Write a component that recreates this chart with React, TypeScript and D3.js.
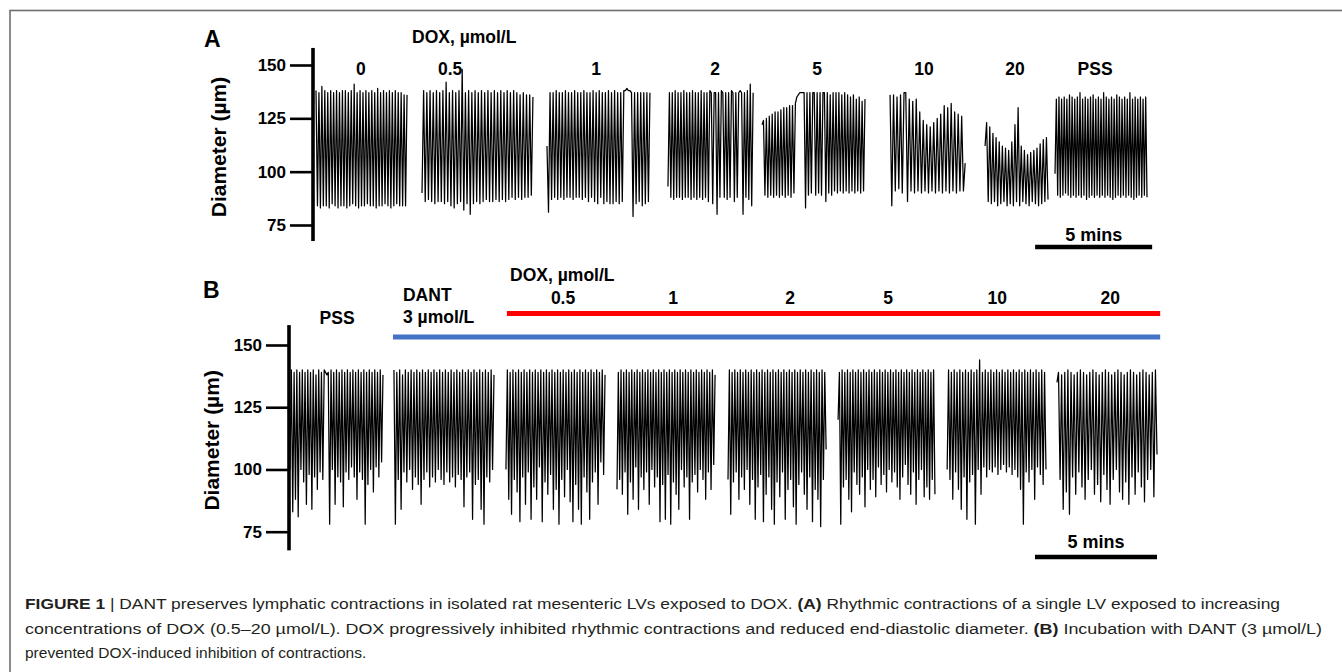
import { useEffect, useRef } from 'react';
import * as d3 from 'd3';

const W = 1342;
const H = 672;
const FONT = '"Liberation Sans", Arial, Helvetica, sans-serif';

const yTicks = [75, 100, 125, 150];

// ---- Panel A: single LV, increasing DOX (times in minutes) ----
const concA = ['0', '0.5', '1', '2', '5', '10', '20', 'PSS'];
const startA = [0, 4.53, 9.87, 15.04, 19.06, 24.53, 28.59, 31.58];
const endA = [3.89, 9.27, 14.27, 18.68, 23.46, 27.74, 31.28, 35.51];
const labelTimeA = [1.92, 5.73, 11.97, 17.05, 21.41, 25.98, 29.87, 33.29];
const scaleBarA = [30.73, 35.73];

const traceA0 = [138, 84, 137, 83, 140, 84, 138, 84, 137, 83, 138, 85, 137, 84, 138, 83, 137, 84, 138, 84, 138, 83, 137, 84, 138, 85, 141, 84, 137, 83, 138, 84, 137, 84, 138, 85, 137, 84, 138, 84, 137, 83, 139, 84, 137, 84, 138, 85, 137, 84, 138, 83, 137, 84, 138, 85, 137, 84, 137, 84, 136, 84, 136];
const traceA05 = [90, 138, 86, 137, 87, 138, 86, 137, 85, 138, 86, 137, 86, 138, 85, 142, 86, 137, 84, 138, 83, 137, 85, 138, 86, 148, 82, 137, 85, 138, 80, 137, 85, 138, 86, 137, 85, 138, 86, 137, 87, 138, 86, 137, 86, 138, 87, 137, 86, 138, 87, 137, 86, 138, 87, 137, 88, 138, 87, 137, 88, 136, 87, 137, 88, 136, 88, 136, 89, 135];
const traceA1 = [112, 81, 137, 87, 137, 88, 138, 87, 137, 88, 137, 87, 138, 88, 137, 88, 137, 87, 138, 88, 137, 88, 137, 87, 138, 88, 137, 86, 137, 88, 138, 86, 137, 85, 138, 88, 137, 85, 137, 86, 138, 85, 137, 85, 138, 86, 137, 85, 137, 86, 138, 138, 139, 138, 138, 137, 79, 137, 85, 137, 86, 137, 84, 137, 85, 137, 86, 137];
const traceA2 = [93, 137, 88, 137, 87, 138, 88, 137, 88, 137, 87, 138, 88, 137, 88, 137, 87, 138, 88, 137, 87, 137, 88, 138, 87, 137, 88, 137, 86, 138, 137, 85, 137, 137, 80, 137, 88, 138, 137, 88, 137, 87, 137, 88, 138, 137, 86, 137, 88, 137, 138, 137, 80, 137, 88, 138, 87, 141, 84, 137];
const traceA5 = [122, 124, 89, 125, 88, 126, 89, 127, 88, 128, 89, 128, 88, 129, 89, 130, 88, 130, 89, 131, 88, 131, 90, 132, 135, 136, 137, 137, 137, 137, 83, 137, 89, 137, 90, 137, 137, 89, 137, 90, 137, 89, 137, 137, 86, 137, 90, 136, 89, 137, 91, 137, 90, 137, 91, 136, 90, 137, 91, 136, 90, 135, 91, 136, 90, 134, 91, 135, 90, 133, 91, 134];
const traceA10 = [136, 84, 136, 91, 135, 92, 136, 90, 137, 137, 86, 134, 91, 133, 90, 134, 91, 128, 90, 124, 91, 122, 90, 121, 91, 123, 90, 125, 91, 127, 90, 131, 91, 130, 90, 132, 91, 128, 90, 127, 91, 126, 91, 104];
const traceA20 = [112, 123, 86, 121, 85, 118, 86, 116, 84, 114, 85, 112, 86, 111, 84, 110, 85, 114, 84, 122, 86, 130, 84, 112, 86, 110, 85, 108, 84, 109, 86, 110, 85, 111, 84, 113, 85, 115, 86, 116, 87];
const traceAPss = [99, 134, 89, 135, 88, 134, 89, 135, 90, 134, 89, 136, 88, 135, 89, 134, 88, 135, 89, 137, 88, 134, 89, 135, 87, 134, 88, 135, 89, 136, 88, 134, 89, 135, 88, 134, 89, 137, 88, 135, 89, 134, 88, 135, 87, 134, 88, 136, 89, 135, 88, 134, 89, 135, 88, 134, 89, 137, 88, 134, 87, 135, 88, 134, 89, 135, 88, 134, 89, 135, 88];
const tracesA = [traceA0, traceA05, traceA1, traceA2, traceA5, traceA10, traceA20, traceAPss];

// ---- Panel B: DANT pre-incubation, then DOX ----
const concB = ['0.5', '1', '2', '5', '10', '20'];
const startB = [0, 4.26, 8.85, 13.4, 17.95, 22.46, 26.93, 31.43];
const endB = [3.81, 8.36, 12.91, 17.42, 21.97, 26.43, 30.98, 35.53];
const labelTimeB = [11.19, 15.7, 20.49, 24.51, 28.98, 33.61];
const scaleBarB = [30.53, 35.53];
const dantBar = [4.22, 35.66];
const doxBar = [8.89, 35.66];

const traceBPss = [100, 140, 83, 139, 88, 140, 81, 139, 100, 140, 95, 139, 86, 140, 98, 139, 84, 140, 97, 138, 92, 140, 99, 139, 96, 140, 139, 138, 139, 78, 140, 100, 139, 86, 140, 97, 139, 95, 140, 85, 139, 99, 140, 96, 139, 101, 140, 97, 139, 88, 140, 99, 139, 96, 140, 78, 139, 94, 140, 100, 139, 91, 140, 101, 139, 97, 140, 103, 138];
const traceBDant = [140, 78, 139, 96, 140, 84, 138, 99, 140, 95, 139, 100, 140, 92, 139, 97, 140, 94, 139, 86, 140, 96, 139, 99, 140, 93, 139, 97, 140, 95, 139, 100, 140, 96, 139, 94, 140, 99, 139, 95, 140, 97, 139, 93, 140, 98, 139, 96, 140, 85, 139, 97, 140, 99, 139, 80, 140, 94, 139, 96, 140, 84, 139, 78, 140, 97, 139, 95, 140, 100, 138];
const traceB05 = [100, 140, 88, 139, 82, 140, 96, 139, 91, 140, 79, 139, 97, 140, 86, 139, 99, 140, 80, 139, 93, 140, 88, 139, 101, 140, 79, 139, 95, 140, 90, 139, 98, 140, 84, 139, 92, 140, 78, 139, 96, 140, 89, 139, 100, 140, 87, 139, 79, 140, 94, 139, 84, 140, 78, 139, 97, 140, 91, 139, 80, 140, 95, 139, 99, 140, 86, 139, 103, 140, 98, 138];
const traceB1 = [92, 139, 96, 140, 90, 139, 99, 140, 82, 139, 95, 140, 88, 139, 101, 140, 84, 139, 97, 140, 92, 139, 99, 140, 86, 139, 100, 140, 93, 139, 97, 140, 79, 139, 94, 140, 80, 139, 98, 140, 78, 139, 95, 140, 90, 139, 84, 140, 100, 139, 93, 140, 97, 139, 80, 140, 95, 139, 98, 140, 91, 139, 100, 140, 96, 139, 88, 140, 99, 139, 92, 140, 102, 138];
const traceB2 = [96, 140, 82, 139, 95, 140, 99, 139, 88, 140, 97, 139, 92, 140, 100, 139, 86, 140, 96, 139, 80, 140, 93, 139, 98, 140, 79, 139, 90, 140, 97, 139, 84, 140, 78, 139, 95, 140, 89, 139, 99, 140, 80, 139, 92, 140, 96, 139, 85, 140, 78, 139, 94, 140, 99, 139, 90, 140, 84, 139, 97, 140, 79, 139, 92, 140, 88, 139, 77, 140, 96, 139, 108];
const traceB5 = [120, 139, 78, 140, 93, 139, 96, 140, 88, 139, 83, 140, 99, 139, 94, 140, 90, 139, 97, 140, 85, 139, 100, 140, 92, 139, 96, 140, 89, 139, 101, 140, 94, 139, 98, 140, 91, 139, 100, 140, 95, 139, 99, 140, 93, 139, 88, 140, 97, 139, 102, 140, 94, 139, 90, 140, 99, 139, 86, 140, 96, 139, 100, 140, 89, 139, 93, 140, 88, 139, 96, 140, 90];
const traceB10 = [100, 140, 96, 139, 88, 140, 99, 139, 92, 140, 84, 139, 97, 140, 80, 139, 95, 140, 98, 139, 78, 140, 100, 144, 90, 139, 101, 140, 97, 139, 100, 140, 99, 139, 101, 140, 98, 139, 100, 140, 102, 139, 99, 140, 101, 139, 98, 140, 100, 139, 97, 140, 92, 139, 78, 140, 99, 139, 95, 140, 100, 139, 88, 140, 101, 139, 98, 140, 94, 139, 100];
const traceB20 = [135, 139, 96, 138, 84, 139, 91, 140, 82, 139, 97, 138, 90, 139, 99, 140, 93, 139, 88, 138, 96, 139, 100, 140, 90, 139, 94, 138, 87, 139, 98, 140, 92, 139, 86, 138, 96, 139, 100, 140, 91, 139, 88, 138, 95, 139, 86, 140, 97, 139, 90, 138, 99, 139, 93, 140, 87, 139, 96, 138, 100, 139, 89, 140, 106];
const tracesB = [traceBPss, traceBDant, traceB05, traceB1, traceB2, traceB5, traceB10, traceB20];

const captionLines = [
  [
    { t: 'FIGURE 1 ', b: true },
    { t: '| DANT preserves lymphatic contractions in isolated rat mesenteric LVs exposed to DOX. ', b: false },
    { t: '(A)', b: true },
    { t: ' Rhythmic contractions of a single LV exposed to increasing', b: false }
  ],
  [
    { t: 'concentrations of DOX (0.5–20 µmol/L). DOX progressively inhibited rhythmic contractions and reduced end-diastolic diameter. ', b: false },
    { t: '(B)', b: true },
    { t: ' Incubation with DANT (3 µmol/L)', b: false }
  ],
  [{ t: 'prevented DOX-induced inhibition of contractions.', b: false }]
];

type Sel = d3.Selection<SVGSVGElement, unknown, null, undefined>;

function boldText(svg: Sel, x: number, y: number, txt: string, size: number, anchor = 'start') {
  return svg
    .append('text')
    .attr('x', x)
    .attr('y', y)
    .attr('text-anchor', anchor)
    .attr('font-family', FONT)
    .attr('font-weight', 'bold')
    .attr('font-size', size)
    .attr('fill', '#000')
    .text(txt);
}

function drawPanel(
  svg: Sel,
  x: d3.ScaleLinear<number, number>,
  y: d3.ScaleLinear<number, number>,
  axisX: number,
  traces: number[][],
  starts: number[],
  ends: number[],
  titleX: number
) {
  const axis = svg
    .append('g')
    .attr('transform', `translate(${axisX},0)`)
    .call(d3.axisLeft(y).tickValues(yTicks).tickSize(23).tickPadding(4).tickFormat(d3.format('d')));
  axis.select('.domain').remove();
  axis.attr('font-family', FONT).attr('font-size', 17).attr('font-weight', 'bold');
  axis.selectAll('line').attr('stroke', '#000').attr('stroke-width', 2.6);
  axis.selectAll('text').attr('fill', '#000');

  svg
    .append('line')
    .attr('x1', axisX)
    .attr('x2', axisX)
    .attr('y1', y(158))
    .attr('y2', y(67.5))
    .attr('stroke', '#000')
    .attr('stroke-width', 3.6);

  svg
    .append('text')
    .attr('transform', `translate(${titleX},${(y(150) + y(75)) / 2 + 2}) rotate(-90)`)
    .attr('text-anchor', 'middle')
    .attr('font-family', FONT)
    .attr('font-weight', 'bold')
    .attr('font-size', 21)
    .attr('fill', '#000')
    .text('Diameter (µm)');

  traces.forEach((vals, i) => {
    const t0 = starts[i];
    const step = (ends[i] - t0) / (vals.length - 1);
    const line = d3
      .line<number>()
      .x((_, j) => x(t0 + j * step))
      .y((v) => y(v));
    svg
      .append('path')
      .attr('d', line(vals))
      .attr('fill', 'none')
      .attr('stroke', '#000')
      .attr('stroke-width', 1.25)
      .attr('stroke-linejoin', 'round');
  });
}

export default function App() {
  const ref = useRef<SVGSVGElement>(null);

  useEffect(() => {
    if (!ref.current) return;
    const svg = d3.select(ref.current);
    svg.selectAll('*').remove();

    svg.append('rect').attr('width', W).attr('height', H).attr('fill', '#fff');
    svg
      .append('rect')
      .attr('x', 10)
      .attr('y', 10.5)
      .attr('width', W + 40)
      .attr('height', H + 40)
      .attr('fill', 'none')
      .attr('stroke', '#6e6e6e')
      .attr('stroke-width', 1.6);

    // Panel A
    const xA = d3.scaleLinear().domain([0, 35.51]).range([316, 1147]);
    const yA = d3.scaleLinear().domain([75, 150]).range([225, 65]);
    boldText(svg, 204, 47, 'A', 23);
    boldText(svg, 412, 43, 'DOX, µmol/L', 17.5);
    concA.forEach((c, i) => boldText(svg, xA(labelTimeA[i]), 75, c, 17.5, 'middle'));
    drawPanel(svg, xA, yA, 313, tracesA, startA, endA, 226);
    svg
      .append('line')
      .attr('x1', xA(scaleBarA[0]))
      .attr('x2', xA(scaleBarA[1]))
      .attr('y1', 247)
      .attr('y2', 247)
      .attr('stroke', '#000')
      .attr('stroke-width', 4.5);
    boldText(svg, (xA(scaleBarA[0]) + xA(scaleBarA[1])) / 2, 241, '5 mins', 18, 'middle');

    // Panel B
    const xB = d3.scaleLinear().domain([0, 35.53]).range([290, 1157]);
    const yB = d3.scaleLinear().domain([75, 150]).range([531.7, 345]);
    boldText(svg, 203, 298, 'B', 23);
    boldText(svg, xB(1.93), 324, 'PSS', 17.5, 'middle');
    boldText(svg, xB(4.63), 301, 'DANT', 17.5);
    boldText(svg, xB(4.63), 323, '3 µmol/L', 17.5);
    boldText(svg, xB(9.02), 281, 'DOX, µmol/L', 17.5);
    concB.forEach((c, i) => boldText(svg, xB(labelTimeB[i]), 304, c, 17.5, 'middle'));
    svg
      .append('line')
      .attr('x1', xB(doxBar[0]))
      .attr('x2', xB(doxBar[1]))
      .attr('y1', 313.5)
      .attr('y2', 313.5)
      .attr('stroke', '#ff0000')
      .attr('stroke-width', 5);
    svg
      .append('line')
      .attr('x1', xB(dantBar[0]))
      .attr('x2', xB(dantBar[1]))
      .attr('y1', 337)
      .attr('y2', 337)
      .attr('stroke', '#4472c4')
      .attr('stroke-width', 5);
    drawPanel(svg, xB, yB, 289, tracesB, startB, endB, 219);
    svg
      .append('line')
      .attr('x1', xB(scaleBarB[0]))
      .attr('x2', xB(scaleBarB[1]))
      .attr('y1', 557)
      .attr('y2', 557)
      .attr('stroke', '#000')
      .attr('stroke-width', 4.5);
    boldText(svg, (xB(scaleBarB[0]) + xB(scaleBarB[1])) / 2, 548, '5 mins', 18, 'middle');

    // Caption
    const capY = [609, 634, 658];
    const capLen = [1255, 1297, null];
    captionLines.forEach((parts, i) => {
      const t = svg
        .append('text')
        .attr('x', 25)
        .attr('y', capY[i])
        .attr('font-family', FONT)
        .attr('font-size', 15.5)
        .attr('fill', '#231f20');
      if (capLen[i]) t.attr('textLength', capLen[i]).attr('lengthAdjust', 'spacingAndGlyphs');
      parts.forEach((p) => {
        t.append('tspan').attr('font-weight', p.b ? 'bold' : 'normal').text(p.t);
      });
    });
  }, []);

  return (
    <svg
      ref={ref}
      width={W}
      height={H}
      viewBox={`0 0 ${W} ${H}`}
      style={{ position: 'absolute', left: 0, top: 0, background: '#fff' }}
    />
  );
}
